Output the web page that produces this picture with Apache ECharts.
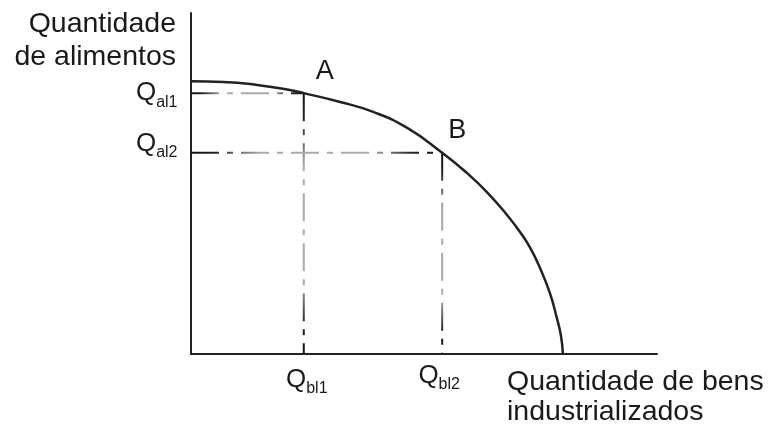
<!DOCTYPE html>
<html>
<head>
<meta charset="utf-8">
<script src="https://cdn.jsdelivr.net/npm/echarts@6/dist/echarts.min.js"></script>
<style>
  html, body { margin: 0; background: #fff; }
  #main { width: 771px; height: 432px; }
</style>
</head>
<body>
<div id="main"></div>
<script>
// frontier, axis units 0..10 on both axes
var curveX = [0, 0.69, 1.42, 2.12, 2.42, 3.2, 3.91, 4.64, 5.39, 5.92, 6.35, 6.78, 7.06, 7.28, 7.49, 7.7, 7.85, 7.94, 7.98];
var curveY = [8.0, 7.98, 7.89, 7.74, 7.65, 7.39, 7.1, 6.63, 5.9, 5.31, 4.75, 4.08, 3.58, 3.11, 2.52, 1.79, 1.06, 0.53, 0];
// the two marked combinations
var pointNames = ['A', 'B'];
var pointX = [2.42, 5.39];
var pointY = [7.65, 5.9];
// subscripts of the Q labels
var yTickSubs = ['al1', 'al2'];
var xTickSubs = ['bl1', 'bl2'];

var FONT = '"Liberation Sans", Arial, sans-serif';
var TXT = '#1a1a1a';

var dom = document.getElementById('main');
var myChart = echarts.init(dom);

// dark near both ends, grey in the middle
var stops = [
  { offset: 0, color: '#111' },
  { offset: 0.1, color: '#222' },
  { offset: 0.28, color: '#aaa' },
  { offset: 0.72, color: '#aaa' },
  { offset: 0.88, color: '#222' },
  { offset: 1, color: '#111' }
];

var series = [];

// dash-dot guides from the points to the axes
for (var i = 0; i < pointX.length; i++) {
  series.push({
    type: 'line',
    data: [[0, pointY[i]], [pointX[i], pointY[i]]],
    symbol: 'none',
    silent: true,
    lineStyle: {
      width: 2,
      type: [28, 8, 6, 8],
      color: new echarts.graphic.LinearGradient(0, 0, 1, 0, stops)
    },
    z: 1
  });
  series.push({
    type: 'line',
    data: [[pointX[i], pointY[i]], [pointX[i], 0]],
    symbol: 'none',
    silent: true,
    lineStyle: {
      width: 2,
      type: [28, 8, 6, 8],
      color: new echarts.graphic.LinearGradient(0, 0, 0, 1, stops)
    },
    z: 1
  });
}

// the frontier itself
var curveData = curveX.map(function (x, k) { return [x, curveY[k]]; });
series.push({
  type: 'line',
  data: curveData,
  smooth: 0.5,
  symbol: 'none',
  lineStyle: { color: '#222', width: 2.5 },
  z: 3
});

// labels: A / B at the points, Q labels on the axes
var richQ = {
  q: { fontSize: 26, lineHeight: 34, color: TXT, fontFamily: FONT },
  s: { fontSize: 16, lineHeight: 9, verticalAlign: 'bottom', color: TXT, fontFamily: FONT }
};
var labelData = [];
var abOffsets = [[21, -22], [15, -22]];
pointNames.forEach(function (n, k) {
  labelData.push({
    value: [pointX[k], pointY[k]],
    label: {
      show: true, position: 'inside', formatter: n,
      offset: abOffsets[k], fontSize: 27, color: TXT, fontFamily: FONT
    }
  });
});
var yOffsets = [[0, 0], [0, -9]];
yTickSubs.forEach(function (s, k) {
  labelData.push({
    value: [0, pointY[k]],
    label: {
      show: true, position: 'left', distance: 13, offset: yOffsets[k],
      formatter: '{q|Q}{s|' + s + '}', rich: richQ
    }
  });
});
var xOffsets = [[3, 8], [-3, 4]];
xTickSubs.forEach(function (s, k) {
  labelData.push({
    value: [pointX[k], 0],
    label: {
      show: true, position: 'bottom', distance: 0, offset: xOffsets[k],
      formatter: '{q|Q}{s|' + s + '}', rich: richQ
    }
  });
});
series.push({
  type: 'scatter',
  data: labelData,
  symbolSize: 1,
  itemStyle: { color: 'rgba(0,0,0,0)', opacity: 1 },
  silent: true,
  z: 5
});

var axisCommon = {
  type: 'value',
  min: 0,
  max: 10,
  axisLine: { show: true, lineStyle: { color: '#222', width: 2 } },
  axisTick: { show: false },
  axisLabel: { show: false },
  splitLine: { show: false }
};

option = {
  animation: false,
  backgroundColor: '#fff',
  grid: { left: 191, right: 114, top: 13, bottom: 78, containLabel: false },
  xAxis: axisCommon,
  yAxis: axisCommon,
  graphic: [
    {
      type: 'text', x: 176, y: 8,
      style: {
        text: 'Quantidade\nde alimentos', align: 'right', verticalAlign: 'top',
        fontSize: 28.5, fontFamily: FONT, lineHeight: 33, fill: TXT
      }
    },
    {
      type: 'text', x: 507, y: 367,
      style: {
        text: 'Quantidade de bens\nindustrializados', align: 'left', verticalAlign: 'top',
        fontSize: 28.5, fontFamily: FONT, lineHeight: 30, fill: TXT
      }
    }
  ],
  series: series
};
myChart.setOption(option, true);
</script>
</body>
</html>
